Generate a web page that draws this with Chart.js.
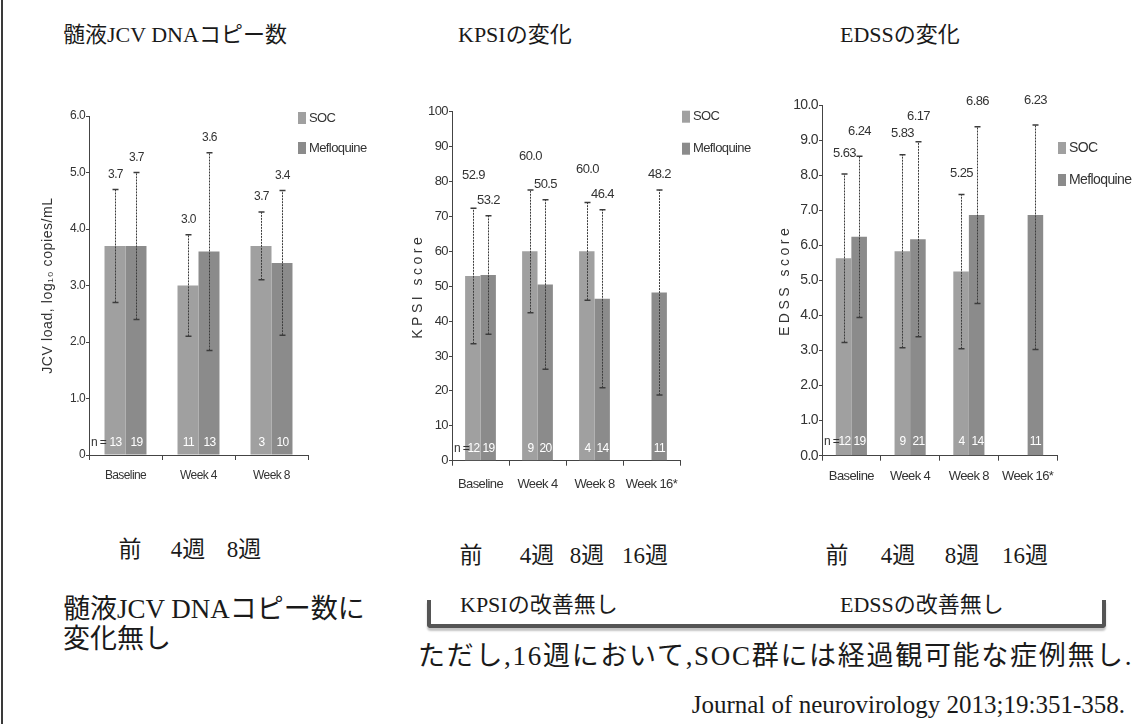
<!DOCTYPE html>
<html lang="ja">
<head>
<meta charset="utf-8">
<script src="https://cdn.jsdelivr.net/npm/chart.js@4.4.1/dist/chart.umd.min.js"></script>
<style>
  body { margin: 0; width: 1139px; height: 724px; background: #fff; position: relative; overflow: hidden;
         font-family: "Liberation Serif", "Noto Sans CJK JP", serif; color: #1a1a1a; }
  .edge { position: absolute; left: 1px; top: 0; width: 2px; height: 724px; background: #3a3a3a; }
  .t { position: absolute; white-space: nowrap; line-height: 1; }
  .c { transform: translateX(-50%); }
  .box { position: absolute; }
  .bracket { position: absolute; left: 427px; top: 600px; width: 671px; height: 24px;
             border: 4px solid #555; border-top: none; border-radius: 0 0 4px 4px;
             box-shadow: 0 3px 2px #c4c4c4; }
</style>
</head>
<body>
<div class="edge"></div>

<div class="t" style="left:63px; top:24px; font-size:22px;">髄液JCV DNAコピー数</div>
<div class="t" style="left:458px; top:24px; font-size:22px;">KPSIの変化</div>
<div class="t" style="left:840px; top:24px; font-size:22px;">EDSSの変化</div>

<div class="box" style="left:20px; top:90px; width:360px; height:420px;"><canvas id="jcv"></canvas></div>
<div class="box" style="left:380px; top:90px; width:380px; height:420px;"><canvas id="kpsi"></canvas></div>
<div class="box" style="left:760px; top:90px; width:379px; height:420px;"><canvas id="edss"></canvas></div>

<div class="t c" style="left:130px; top:538px; font-size:23px;">前</div>
<div class="t c" style="left:188px; top:538px; font-size:23px;">4週</div>
<div class="t c" style="left:244px; top:538px; font-size:23px;">8週</div>

<div class="t c" style="left:471px; top:544px; font-size:23px;">前</div>
<div class="t c" style="left:537px; top:544px; font-size:23px;">4週</div>
<div class="t c" style="left:587px; top:544px; font-size:23px;">8週</div>
<div class="t c" style="left:645px; top:544px; font-size:23px;">16週</div>

<div class="t c" style="left:837px; top:544px; font-size:23px;">前</div>
<div class="t c" style="left:898px; top:544px; font-size:23px;">4週</div>
<div class="t c" style="left:962px; top:544px; font-size:23px;">8週</div>
<div class="t c" style="left:1025px; top:544px; font-size:23px;">16週</div>

<div class="t" style="left:63px; top:596px; font-size:27px;">髄液JCV DNAコピー数に</div>
<div class="t" style="left:63px; top:626px; font-size:27px;">変化無し</div>
<div class="t" style="left:460px; top:594px; font-size:22px;">KPSIの改善無し</div>
<div class="t" style="left:840px; top:594px; font-size:22px;">EDSSの改善無し</div>
<div class="bracket"></div>
<div class="t" style="left:418px; top:643px; font-size:27px; letter-spacing:1.7px;">ただし,16週において,SOC群には経過観可能な症例無し.</div>
<div class="t" style="right:14px; top:692px; font-size:25px;">Journal of neurovirology 2013;19:351-358.</div>

<script>
// shared
const seriesNames = ['SOC', 'Mefloquine'];
const socColor = '#a0a0a0';
const mefColor = '#8b8b8b';
const sans = "'Liberation Sans Narrow', 'Arial Narrow', 'Liberation Sans', sans-serif";

// JCV DNA load
const jcvCategories = ['Baseline', 'Week 4', 'Week 8'];
const jcvSoc = [3.7, 3.0, 3.7];
const jcvMef = [3.7, 3.6, 3.4];
const jcvSocLow = [2.7, 2.1, 3.1];
const jcvSocHigh = [4.7, 3.9, 4.3];
const jcvMefLow = [2.4, 1.85, 2.12];
const jcvMefHigh = [5.0, 5.35, 4.68];
const jcvSocLabels = ['3.7', '3.0', '3.7'];
const jcvMefLabels = ['3.7', '3.6', '3.4'];
const jcvSocN = [13, 11, 3];
const jcvMefN = [19, 13, 10];
const jcvTicks = ['0', '1.0', '2.0', '3.0', '4.0', '5.0', '6.0'];

// KPSI
const kpsiCategories = ['Baseline', 'Week 4', 'Week 8', 'Week 16*'];
const kpsiSoc = [52.9, 60.0, 60.0, null];
const kpsiMef = [53.2, 50.5, 46.4, 48.2];
const kpsiSocLow = [33.5, 42.4, 46.0, null];
const kpsiSocHigh = [72.3, 77.6, 74.0, null];
const kpsiMefLow = [36.2, 26.2, 20.9, 18.8];
const kpsiMefHigh = [70.2, 74.8, 71.9, 77.6];
const kpsiSocLabels = ['52.9', '60.0', '60.0', null];
const kpsiMefLabels = ['53.2', '50.5', '46.4', '48.2'];
const kpsiSocN = [12, 9, 4, null];
const kpsiMefN = [19, 20, 14, 11];
const kpsiTicks = ['0', '10', '20', '30', '40', '50', '60', '70', '80', '90', '100'];

// EDSS (week 16 bar is drawn at 6.86 in the figure, labelled 6.23)
const edssCategories = ['Baseline', 'Week 4', 'Week 8', 'Week 16*'];
const edssSoc = [5.63, 5.83, 5.25, null];
const edssMef = [6.24, 6.17, 6.86, 6.86];
const edssSocLow = [3.23, 3.08, 3.05, null];
const edssSocHigh = [8.03, 8.58, 7.45, null];
const edssMefLow = [3.94, 3.39, 4.34, 3.03];
const edssMefHigh = [8.54, 8.95, 9.38, 9.43];
const edssSocLabels = ['5.63', '5.83', '5.25', null];
const edssMefLabels = ['6.24', '6.17', '6.86', '6.23'];
const edssSocN = [12, 9, 4, null];
const edssMefN = [19, 21, 14, 11];
const edssTicks = ['0.0', '1.0', '2.0', '3.0', '4.0', '5.0', '6.0', '7.0', '8.0', '9.0', '10.0'];

Chart.defaults.font.family = sans;
Chart.defaults.color = '#333';

// error bars, value labels, n counts, legend and rotated axis title
const annotPlugin = {
  id: 'annot',
  beforeDraw(chart) {
    // the original uses a condensed face; tighten the spacing a little
    chart.ctx.letterSpacing = '-0.6px';
  },
  afterDatasetsDraw(chart, args, o) {
    const { ctx, chartArea: area, scales: { y } } = chart;
    ctx.save();
    chart.data.datasets.forEach((ds, i) => {
      const meta = chart.getDatasetMeta(i);
      meta.data.forEach((bar, j) => {
        if (ds.data[j] == null) return;
        const cx = Math.round(bar.x) + 0.5;
        const yHi = y.getPixelForValue(ds.errHigh[j]);
        const yLo = y.getPixelForValue(ds.errLow[j]);
        ctx.strokeStyle = '#3c3c3c';
        ctx.lineWidth = 1;
        ctx.setLineDash([2, 1]);
        ctx.beginPath();
        ctx.moveTo(cx, yLo);
        ctx.lineTo(cx, yHi);
        ctx.stroke();
        ctx.setLineDash([]);
        ctx.lineWidth = 1.5;
        ctx.beginPath();
        ctx.moveTo(cx - 3, yHi); ctx.lineTo(cx + 3, yHi);
        ctx.moveTo(cx - 3, yLo); ctx.lineTo(cx + 3, yLo);
        ctx.stroke();

        ctx.fillStyle = '#333';
        ctx.font = o.valueFont;
        ctx.textAlign = 'center';
        ctx.textBaseline = 'middle';
        ctx.fillText(ds.valueLabels[j], cx, yHi - o.labelOffset[i]);

        ctx.fillStyle = '#fff';
        ctx.font = o.nFont;
        ctx.fillText(String(ds.counts[j]), cx, area.bottom - o.nOffset);
      });
    });
    ctx.fillStyle = '#333';
    ctx.font = o.nFont;
    ctx.textAlign = 'left';
    ctx.textBaseline = 'middle';
    ctx.fillText('n =', area.left + 2, area.bottom - o.nOffset);

    // legend
    chart.data.datasets.forEach((ds, i) => {
      const lx = area.right + o.legendDx;
      const ly = area.top + o.legendDy[i];
      ctx.fillStyle = ds.backgroundColor;
      ctx.fillRect(lx, ly - 6, 8, 12);
      ctx.fillStyle = '#333';
      ctx.font = o.legendFont;
      ctx.textAlign = 'left';
      ctx.fillText(ds.label, lx + 11, ly);
    });

    // y axis title
    ctx.save();
    ctx.translate(area.left + o.titleDx, (area.top + area.bottom) / 2);
    ctx.rotate(-Math.PI / 2);
    ctx.fillStyle = '#333';
    ctx.font = o.titleFont;
    ctx.letterSpacing = o.titleSpacing;
    ctx.textAlign = 'center';
    ctx.textBaseline = 'middle';
    ctx.fillText(o.title, 0, 0);
    ctx.restore();
    ctx.restore();
  }
};

function makeChart(id, box, area, cfg) {
  const yWidth = area.l - box.x;
  const xHeight = 40;
  return new Chart(document.getElementById(id), {
    type: 'bar',
    data: {
      labels: cfg.categories,
      datasets: [
        { label: seriesNames[0], data: cfg.soc, backgroundColor: socColor,
          errLow: cfg.socLow, errHigh: cfg.socHigh, valueLabels: cfg.socLabels, counts: cfg.socN },
        { label: seriesNames[1], data: cfg.mef, backgroundColor: mefColor,
          errLow: cfg.mefLow, errHigh: cfg.mefHigh, valueLabels: cfg.mefLabels, counts: cfg.mefN }
      ]
    },
    options: {
      responsive: true,
      maintainAspectRatio: false,
      animation: false,
      events: [],
      categoryPercentage: cfg.catPct,
      barPercentage: 1,
      layout: {
        padding: {
          left: 0,
          top: area.t - box.y,
          right: box.x + box.w - area.r,
          bottom: box.y + box.h - area.b - xHeight
        }
      },
      plugins: {
        legend: { display: false },
        tooltip: { enabled: false },
        annot: cfg.annot
      },
      scales: {
        x: {
          afterFit: s => { s.height = xHeight; },
          ticks: { font: { size: cfg.xFont }, color: '#333', padding: cfg.xPad,
                   maxRotation: 0, autoSkip: false },
          grid: { drawOnChartArea: false, tickLength: 5, color: '#444', offset: true },
          border: { color: '#444', width: 1 }
        },
        y: {
          min: 0,
          max: cfg.yMax,
          afterFit: s => { s.width = yWidth; },
          ticks: { stepSize: cfg.yStep, font: { size: cfg.yFont }, color: '#333', padding: 1,
                   callback: (v, i) => cfg.ticks[i] },
          grid: { drawOnChartArea: false, tickLength: 3, color: '#444' },
          border: { color: '#444', width: 1 }
        }
      }
    },
    plugins: [annotPlugin]
  });
}

makeChart('jcv', { x: 20, y: 90, w: 360, h: 420 }, { l: 89, t: 116, r: 308, b: 455 }, {
  categories: jcvCategories, soc: jcvSoc, mef: jcvMef,
  socLow: jcvSocLow, socHigh: jcvSocHigh, mefLow: jcvMefLow, mefHigh: jcvMefHigh,
  socLabels: jcvSocLabels, mefLabels: jcvMefLabels, socN: jcvSocN, mefN: jcvMefN,
  ticks: jcvTicks, yMax: 6, yStep: 1, yFont: 12, xFont: 12, xPad: 8, catPct: 0.575,
  annot: {
    valueFont: '12px ' + sans, nFont: '12px ' + sans, legendFont: '13px ' + sans,
    labelOffset: [15, 15], nOffset: 12, legendDx: -10, legendDy: [2, 32],
    title: 'JCV load, log\u2081\u2080 copies/mL', titleFont: '14px ' + sans, titleSpacing: '0.6px', titleDx: -41
  }
});

makeChart('kpsi', { x: 380, y: 90, w: 380, h: 420 }, { l: 452, t: 111.7, r: 680, b: 460.7 }, {
  categories: kpsiCategories, soc: kpsiSoc, mef: kpsiMef,
  socLow: kpsiSocLow, socHigh: kpsiSocHigh, mefLow: kpsiMefLow, mefHigh: kpsiMefHigh,
  socLabels: kpsiSocLabels, mefLabels: kpsiMefLabels, socN: kpsiSocN, mefN: kpsiMefN,
  ticks: kpsiTicks, yMax: 100, yStep: 10, yFont: 13, xFont: 13, xPad: 11, catPct: 0.54,
  annot: {
    valueFont: '13px ' + sans, nFont: '12px ' + sans, legendFont: '13px ' + sans,
    labelOffset: [33, 15], nOffset: 12.5, legendDx: 2, legendDy: [5, 37],
    title: 'KPSI score', titleFont: '14px ' + sans, titleSpacing: '3.5px', titleDx: -34
  }
});

makeChart('edss', { x: 760, y: 90, w: 379, h: 420 }, { l: 822, t: 105, r: 1057, b: 455.7 }, {
  categories: edssCategories, soc: edssSoc, mef: edssMef,
  socLow: edssSocLow, socHigh: edssSocHigh, mefLow: edssMefLow, mefHigh: edssMefHigh,
  socLabels: edssSocLabels, mefLabels: edssMefLabels, socN: edssSocN, mefN: edssMefN,
  ticks: edssTicks, yMax: 10, yStep: 1, yFont: 14, xFont: 13, xPad: 8, catPct: 0.53,
  annot: {
    valueFont: '13px ' + sans, nFont: '12px ' + sans, legendFont: '14px ' + sans,
    labelOffset: [21, 25], nOffset: 14, legendDx: 1, legendDy: [43, 75],
    title: 'EDSS score', titleFont: '14px ' + sans, titleSpacing: '3.5px', titleDx: -37
  }
});
</script>
</body>
</html>
